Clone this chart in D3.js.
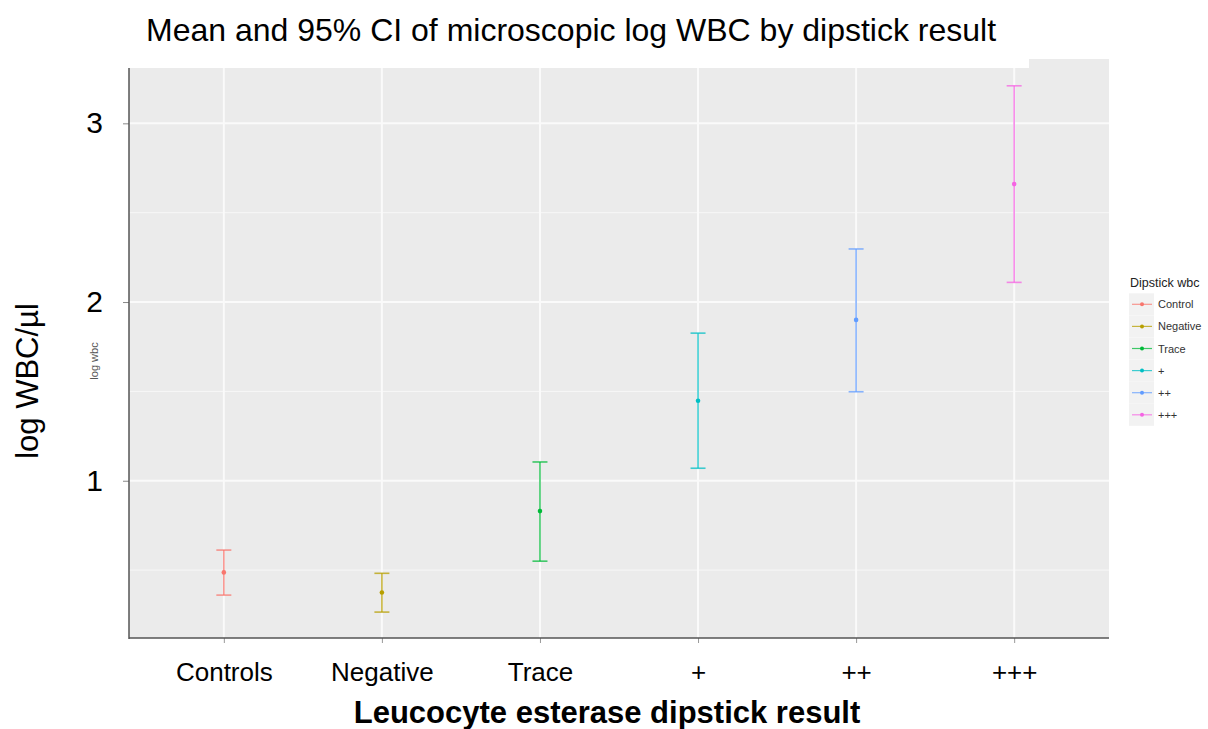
<!DOCTYPE html>
<html>
<head>
<meta charset="utf-8">
<script src="https://cdn.jsdelivr.net/npm/d3@7"></script>
<style>
  body { margin: 0; background: #fff; }
  svg { display: block; font-family: "Liberation Sans", Arial, sans-serif; }
</style>
</head>
<body>
<svg id="chart" width="1208" height="729"></svg>
<script>
(function() {
	'use strict';

	// data
	var categories = ['Controls', 'Negative', 'Trace', '+', '++', '+++'];
	var legendLabels = ['Control', 'Negative', 'Trace', '+', '++', '+++'];
	var means = [0.487, 0.375, 0.83, 1.448, 1.90, 2.66];
	var lower = [0.36, 0.265, 0.55, 1.07, 1.498, 2.11];
	var upper = [0.612, 0.482, 1.105, 1.826, 2.297, 3.21];
	var colors = ['#F8766D', '#B79F00', '#00BA38', '#00BFC4', '#619CFF', '#F564E3'];
	var yTicks = [1, 2, 3];
	var yMinor = [0.5, 1.5, 2.5];

	var svg = d3.select('#chart');
	var panelLeft = 129, panelRight = 1109, panelTop = 59, panelBottom = 638;

	var x = d3.scalePoint().domain(categories).range([panelLeft, panelRight]).padding(0.6);
	var y = d3.scaleLinear().domain([0.12, 3.36]).range([panelBottom, panelTop]);

	var rows = categories.map(function(c, i) {
		return {cat: c, mean: means[i], lo: lower[i], hi: upper[i], color: colors[i]};});

	// panel background
	svg.append('rect')
		.attr('x', panelLeft).attr('y', panelTop)
		.attr('width', panelRight - panelLeft).attr('height', panelBottom - panelTop)
		.attr('fill', '#ebebeb');

	// grid
	svg.append('g').selectAll('line').data(yMinor).enter().append('line')
		.attr('x1', panelLeft).attr('x2', panelRight)
		.attr('y1', y).attr('y2', y)
		.attr('stroke', '#f7f7f7').attr('stroke-width', 1);
	svg.append('g').selectAll('line').data(yTicks).enter().append('line')
		.attr('x1', panelLeft).attr('x2', panelRight)
		.attr('y1', y).attr('y2', y)
		.attr('stroke', '#fafafa').attr('stroke-width', 2);
	svg.append('g').selectAll('line').data(categories).enter().append('line')
		.attr('x1', x).attr('x2', x)
		.attr('y1', panelTop).attr('y2', panelBottom)
		.attr('stroke', '#fafafa').attr('stroke-width', 2);

	// white block that covers the top of the panel behind the title
	svg.append('rect')
		.attr('x', 0).attr('y', 0).attr('width', 1029).attr('height', 68)
		.attr('fill', '#fff');

	// error bars
	var bars = svg.append('g').selectAll('g').data(rows).enter().append('g')
		.attr('stroke', function(d) {return d.color;})
		.attr('stroke-opacity', 0.75)
		.attr('stroke-width', 1.6);
	bars.append('line')
		.attr('x1', function(d) {return x(d.cat);}).attr('x2', function(d) {return x(d.cat);})
		.attr('y1', function(d) {return y(d.hi);}).attr('y2', function(d) {return y(d.lo);});
	bars.append('line')
		.attr('x1', function(d) {return x(d.cat) - 7.5;}).attr('x2', function(d) {return x(d.cat) + 7.5;})
		.attr('y1', function(d) {return y(d.hi);}).attr('y2', function(d) {return y(d.hi);});
	bars.append('line')
		.attr('x1', function(d) {return x(d.cat) - 7.5;}).attr('x2', function(d) {return x(d.cat) + 7.5;})
		.attr('y1', function(d) {return y(d.lo);}).attr('y2', function(d) {return y(d.lo);});
	svg.append('g').selectAll('circle').data(rows).enter().append('circle')
		.attr('cx', function(d) {return x(d.cat);})
		.attr('cy', function(d) {return y(d.mean);})
		.attr('r', 2.3)
		.attr('fill', function(d) {return d.color;});

	// axes
	var yAxis = svg.append('g').attr('transform', 'translate(' + panelLeft + ',0)')
		.call(d3.axisLeft(y).tickValues(yTicks).tickFormat(d3.format('d')).tickSize(6).tickPadding(20));
	yAxis.select('.domain').remove();
	yAxis.selectAll('.tick line').attr('stroke', '#888');
	yAxis.selectAll('.tick text')
		.style('font-size', '30px').style('font-family', '"Liberation Sans", Arial, sans-serif')
		.attr('fill', '#000');

	var xAxis = svg.append('g').attr('transform', 'translate(0,' + panelBottom + ')')
		.call(d3.axisBottom(x).tickSize(5).tickPadding(20));
	xAxis.select('.domain').remove();
	xAxis.selectAll('.tick line').attr('stroke', '#999');
	xAxis.selectAll('.tick text')
		.style('font-size', '26px').style('font-family', '"Liberation Sans", Arial, sans-serif')
		.attr('fill', '#000');

	svg.append('line')
		.attr('x1', panelLeft).attr('x2', panelLeft).attr('y1', 68).attr('y2', panelBottom + 1)
		.attr('stroke', '#555').attr('stroke-width', 1.5);
	svg.append('line')
		.attr('x1', panelLeft).attr('x2', panelRight).attr('y1', panelBottom).attr('y2', panelBottom)
		.attr('stroke', '#555').attr('stroke-width', 1.5);

	// titles
	svg.append('text')
		.attr('x', 146).attr('y', 41)
		.style('font-size', '32px')
		.attr('fill', '#000')
		.text('Mean and 95% CI of microscopic log WBC by dipstick result');
	svg.append('text')
		.attr('transform', 'translate(37.5,381)rotate(-90)')
		.attr('text-anchor', 'middle')
		.style('font-size', '31px')
		.attr('fill', '#000')
		.text('log WBC/\u00b5l');
	// the faint original ggplot label
	svg.append('text')
		.attr('transform', 'translate(98,361)rotate(-90)')
		.attr('text-anchor', 'middle')
		.style('font-size', '11px')
		.attr('fill', '#555')
		.text('log wbc');
	svg.append('text')
		.attr('x', 607).attr('y', 723)
		.attr('text-anchor', 'middle')
		.style('font-size', '31px').style('font-weight', 'bold')
		.attr('fill', '#000')
		.text('Leucocyte esterase dipstick result');

	// legend
	var legend = svg.append('g').attr('transform', 'translate(1130,0)');
	legend.append('text')
		.attr('x', 0).attr('y', 287)
		.style('font-size', '12.5px')
		.attr('fill', '#222')
		.text('Dipstick wbc');
	var item = legend.selectAll('.item').data(legendLabels).enter().append('g')
		.attr('class', 'item')
		.attr('transform', function(d, i) {return 'translate(0,' + (304.3 + i * 22.1) + ')';});
	item.append('rect')
		.attr('x', -1).attr('y', -11).attr('width', 25).attr('height', 22)
		.attr('fill', '#f2f2f2');
	item.append('line')
		.attr('x1', 2).attr('x2', 22).attr('y1', 0).attr('y2', 0)
		.attr('stroke', function(d, i) {return colors[i];})
		.attr('stroke-opacity', 0.75)
		.attr('stroke-width', 1.2);
	item.append('circle')
		.attr('cx', 12).attr('cy', 0).attr('r', 2)
		.attr('fill', function(d, i) {return colors[i];});
	item.append('text')
		.attr('x', 28).attr('y', 4)
		.style('font-size', '11px')
		.attr('fill', '#333')
		.text(function(d) {return d;});
})();
</script>
</body>
</html>
